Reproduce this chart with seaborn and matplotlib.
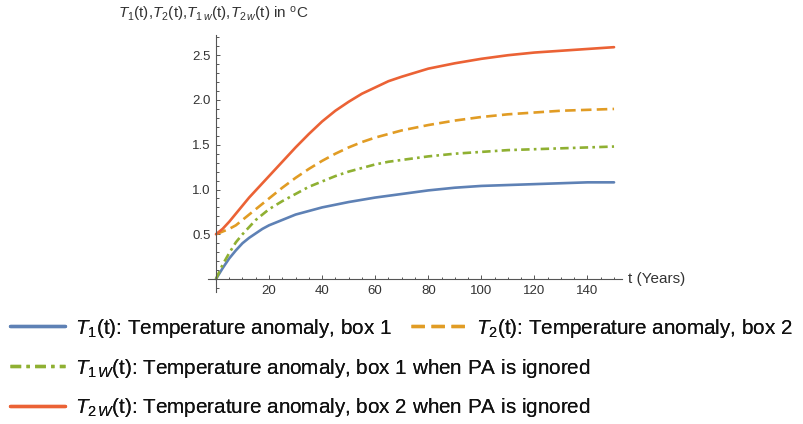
import matplotlib
matplotlib.use('Agg')
import matplotlib.pyplot as plt
import matplotlib.transforms as mtransforms
from matplotlib.ticker import MultipleLocator, FixedLocator
from matplotlib.lines import Line2D
import pandas as pd
import seaborn as sns

# time in years
t = [0, 2.5, 5, 7.5, 10, 12.5, 15, 17.5, 20, 25, 30, 35, 40, 45, 50, 55,
     60, 65, 70, 80, 90, 100, 110, 120, 130, 140, 150]

# values (deg C)
t1 = [0.00, 0.12, 0.23, 0.32, 0.40, 0.46, 0.51, 0.56, 0.60, 0.66, 0.72, 0.76, 0.80, 0.83, 0.86, 0.885,
      0.91, 0.93, 0.95, 0.99, 1.02, 1.04, 1.05, 1.06, 1.07, 1.08, 1.08]
t2 = [0.50, 0.53, 0.56, 0.60, 0.66, 0.72, 0.78, 0.84, 0.90, 1.02, 1.13, 1.23, 1.32, 1.40, 1.47, 1.53,
      1.58, 1.62, 1.66, 1.72, 1.77, 1.81, 1.84, 1.86, 1.88, 1.89, 1.90]
t1w = [0.00, 0.16, 0.29, 0.41, 0.50, 0.58, 0.66, 0.72, 0.78, 0.87, 0.95, 1.03, 1.09, 1.15, 1.20, 1.24,
       1.28, 1.31, 1.33, 1.37, 1.40, 1.42, 1.44, 1.45, 1.46, 1.47, 1.48]
t2w = [0.50, 0.56, 0.64, 0.73, 0.82, 0.91, 0.99, 1.07, 1.15, 1.31, 1.47, 1.62, 1.76, 1.88, 1.98, 2.07,
       2.14, 2.21, 2.26, 2.35, 2.41, 2.46, 2.50, 2.53, 2.55, 2.57, 2.59]

x_ticks = [20, 40, 60, 80, 100, 120, 140]
y_ticks = [0.5, 1.0, 1.5, 2.0, 2.5]

labels = [r"$T_1$(t): Temperature anomaly, box 1",
          r"$T_2$(t): Temperature anomaly, box 2",
          r"$T_{1\,W}$(t): Temperature anomaly, box 1 when PA is ignored",
          r"$T_{2\,W}$(t): Temperature anomaly, box 2 when PA is ignored"]

colors = ['#5E81B5', '#E19C24', '#8FB032', '#EB6235']
styles = ['-', (0, (4, 2)), (0, (3.2, 1.6, 1.0, 1.6)), '-']

sns.set_theme(style='white')
plt.rcParams['font.family'] = ['Liberation Sans', 'DejaVu Sans']
plt.rcParams['mathtext.fontset'] = 'custom'
plt.rcParams['mathtext.rm'] = 'Liberation Sans'
plt.rcParams['mathtext.it'] = 'Liberation Sans:italic'

df = pd.DataFrame({'t': t, 'T1': t1, 'T2': t2, 'T1W': t1w, 'T2W': t2w})

fig = plt.figure(figsize=(8.04, 4.24), dpi=100)
ax = fig.add_axes([208 / 804, 1 - 292 / 424, 414 / 804, 257 / 424])

for name, c, ls in zip(['T1', 'T2', 'T1W', 'T2W'], colors, styles):
    sns.lineplot(data=df, x='t', y=name, color=c, linestyle=ls, linewidth=1.9, ax=ax)

ax.set_xlim(-3, 153)
ax.set_ylim(-0.145, 2.726)
ax.set_xlabel('')
ax.set_ylabel('')

for s in ['top', 'right']:
    ax.spines[s].set_visible(False)
for s in ['left', 'bottom']:
    ax.spines[s].set_position(('data', 0))
    ax.spines[s].set_color('#555555')
    ax.spines[s].set_linewidth(0.8)

ax.xaxis.set_major_locator(FixedLocator(x_ticks))
ax.xaxis.set_minor_locator(MultipleLocator(5))
ax.yaxis.set_major_locator(FixedLocator(y_ticks))
ax.yaxis.set_minor_locator(MultipleLocator(0.1))
ax.set_yticklabels(['%.1f' % v for v in y_ticks])
ax.tick_params(which='both', direction='in', color='#555555', width=0.7,
               labelsize=9.5, labelcolor='#333333', bottom=True, left=True)
ax.tick_params(which='major', length=3.2, pad=4)
ax.tick_params(which='minor', length=1.8)

# axis labels Mathematica style
trans = mtransforms.blended_transform_factory(ax.transAxes, ax.transData)
ax.text(1.015, 0, 't (Years)', transform=trans, va='center', ha='left',
        fontsize=11, color='#333333')
fig.text(118 / 804, 1 - 14 / 424,
         r"$T_1$(t),$T_2$(t),$T_{1\,w}$(t),$T_{2\,w}$(t) in $^{\rm o}$C",
         va='center', ha='left', fontsize=11, color='#333333')

# legend below, three rows
handles = [Line2D([], [], color=c, linestyle=ls, linewidth=2.4) for c, ls in zip(colors, styles)]
leg_kw = dict(frameon=False, loc='center left', fontsize=14.9, handlelength=2.65,
              handletextpad=0.5, borderpad=0, borderaxespad=0, labelcolor='#111111')
rows = [([0, 1], 0.226), ([2], 0.132), ([3], 0.038)]
for idx, y in rows:
    lg = fig.legend([handles[i] for i in idx], [labels[i] for i in idx], ncol=len(idx),
                    columnspacing=0.9, bbox_to_anchor=(10 / 804, y), **leg_kw)
    fig.add_artist(lg)

fig.savefig('out.png', dpi=100)
